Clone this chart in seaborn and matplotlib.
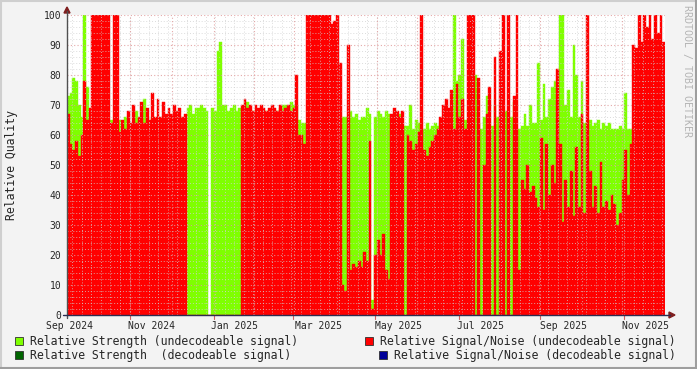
import numpy as np
import pandas as pd
import matplotlib
matplotlib.use("Agg")
import matplotlib.pyplot as plt
import seaborn as sns
from matplotlib.lines import Line2D
from matplotlib.patches import Rectangle, Polygon

# ---------------- data (2-day steps, 0..440 days) ----------------
step_days = 2
snr_undecodeable = [
    67, 57, 55, 58, 53, 60, 78, 65, 69, 100,
    100, 100, 100, 100, 100, 100, 64, 100, 100, 61,
    65, 62, 68, 64, 70, 64, 66, 71, 64, 69,
    65, 74, 66, 72, 66, 71, 67, 69, 67, 70,
    68, 69, 66, 67, 0, 0, 0, 0, 0, 0,
    0, 0, 0, 0, 0, 0, 0, 0, 0, 0,
    0, 0, 0, 0, 70, 72, 69, 70, 68, 70,
    69, 70, 69, 68, 69, 70, 69, 68, 70, 68,
    69, 70, 68, 69, 80, 60, 60, 57, 100, 100,
    100, 100, 100, 100, 100, 100, 100, 97, 98, 100,
    84, 10, 8, 90, 15, 17, 16, 18, 16, 21,
    18, 58, 2, 20, 25, 20, 27, 15, 12, 67,
    69, 68, 66, 68, 0, 60, 58, 55, 57, 61,
    100, 55, 53, 56, 58, 60, 62, 66, 70, 72,
    69, 75, 62, 77, 66, 72, 62, 100, 100, 100,
    0, 79, 0, 50, 67, 76, 0, 86, 0, 88,
    100, 0, 100, 0, 73, 100, 15, 45, 42, 50,
    41, 43, 39, 36, 59, 35, 57, 40, 50, 44,
    82, 57, 31, 45, 36, 48, 33, 56, 36, 67,
    34, 100, 48, 36, 43, 34, 51, 36, 38, 35,
    40, 37, 30, 34, 45, 55, 40, 57, 90, 89,
    100, 91, 100, 96, 100, 92, 100, 94, 100, 91,
]
strength_undecodeable = [
    73, 74, 79, 78, 70, 66, 100, 76, 65, 60,
    60, 60, 60, 60, 60, 60, 65, 60, 60, 65,
    60, 66, 64, 58, 64, 68, 62, 65, 72, 66,
    60, 66, 60, 66, 64, 66, 63, 66, 63, 66,
    66, 64, 60, 65, 69, 70, 67, 69, 69, 70,
    69, 68, 0, 69, 68, 88, 91, 70, 70, 68,
    69, 70, 68, 69, 68, 68, 71, 66, 68, 66,
    68, 67, 68, 68, 67, 68, 66, 68, 69, 70,
    70, 68, 71, 70, 70, 65, 64, 64, 60, 60,
    60, 60, 60, 60, 60, 60, 60, 60, 60, 60,
    66, 66, 66, 66, 68, 66, 67, 65, 66, 66,
    69, 67, 5, 66, 68, 67, 66, 68, 67, 66,
    64, 65, 67, 62, 63, 63, 70, 62, 65, 64,
    62, 62, 64, 62, 63, 64, 63, 64, 66, 66,
    66, 64, 100, 78, 80, 92, 65, 60, 60, 60,
    80, 64, 62, 66, 73, 63, 63, 70, 66, 65,
    60, 68, 60, 66, 71, 60, 62, 63, 67, 63,
    70, 64, 64, 84, 65, 77, 66, 72, 76, 78,
    72, 100, 100, 70, 75, 66, 90, 80, 66, 78,
    64, 64, 65, 63, 64, 65, 62, 64, 63, 64,
    62, 62, 62, 63, 62, 74, 62, 62, 62, 60,
    60, 60, 60, 60, 60, 60, 60, 60, 60, 60,
]
month_labels = ["Sep 2024", "Nov 2024", "Jan 2025", "Mar 2025",
                "May 2025", "Jul 2025", "Sep 2025", "Nov 2025"]
month_label_days = [2.2, 62.5, 122.9, 184.7, 243.6, 303.9, 365.0, 425.3]
month_grid_days = [46.4, 77.3, 108.2, 137.6, 167.0, 198.7, 228.1, 257.5,
                   288.4, 317.9, 348.0, 378.9, 408.4]
tick2m_days = [46.4, 108.2, 166.3, 226.6, 288.4, 348.0, 409.8]
legend_labels = ["Relative Strength (undecodeable signal)",
                 "Relative Signal/Noise (undecodeable signal)",
                 "Relative Strength  (decodeable signal)",
                 "Relative Signal/Noise (decodeable signal)"]

C_GREEN = "#7fff00"
C_RED = "#ff0000"
C_DKGREEN = "#006400"
C_NAVY = "#000099"

W, H = 697, 369
sns.set_style("white")
plt.rcParams["font.family"] = ["DejaVu Sans Mono", "DejaVu Sans"]

fig = plt.figure(figsize=(W / 100, H / 100), dpi=100, facecolor="#f3f3f3")
ax = fig.add_axes([67 / W, (H - 315) / H, (665 - 67) / W, 300 / H])
ax.set_facecolor("white")

n = len(snr_undecodeable)
df = pd.DataFrame({
    "day": np.arange(n) * step_days + step_days / 2,
    "strength": strength_undecodeable,
    "snr": snr_undecodeable,
})
span = (0, n * step_days)

sns.histplot(data=df, x="day", weights="strength", binwidth=step_days,
             binrange=span, color=C_GREEN, alpha=1, element="bars",
             fill=True, linewidth=0.3, edgecolor=C_GREEN, ax=ax, zorder=1)
sns.histplot(data=df, x="day", weights="snr", binwidth=step_days,
             binrange=span, color=C_RED, alpha=1, element="bars",
             fill=True, linewidth=0.3, edgecolor=C_RED, ax=ax, zorder=1.1)

ax.set_xlim(0, n * step_days)
ax.set_ylim(0, 100)
ax.set_xlabel("")
ax.set_ylabel("")

# grid
ax.set_yticks(range(0, 101, 10))
ax.set_yticks(range(0, 101, 2), minor=True)
ax.set_xticks(month_label_days)
ax.set_xticklabels(month_labels)
ax.set_xticks(np.arange(4, n * step_days, 7), minor=True)
ax.set_axisbelow(False)
ax.grid(which="minor", axis="both", color="#d0d0d0", alpha=0.75,
        linestyle=(0, (1, 2)), linewidth=0.7)
ax.grid(which="major", axis="y", color="#e09a9a", alpha=0.85,
        linestyle=(0, (1, 2)), linewidth=0.8)
ax.grid(which="major", axis="x", visible=False)
for d in month_grid_days:
    ax.axvline(d, color="#e09a9a", alpha=0.85, linestyle=(0, (1, 2)),
               linewidth=0.8, zorder=3)

ax.tick_params(axis="both", which="both", length=0)
ax.tick_params(axis="y", labelsize=7, pad=4)
ax.tick_params(axis="x", labelsize=7, pad=4.2)
for s in ax.spines.values():
    s.set_visible(False)


def P(x, y):
    return (x / W, 1 - y / H)


tf = fig.transFigure
# 2-month tick marks under axis
for d in tick2m_days:
    xp = 67 + d * (598 / 440)
    fig.add_artist(Line2D([P(xp, 315)[0]] * 2, [P(0, 315)[1], P(0, 319)[1]],
                          transform=tf, color="#d06060", linewidth=0.8))
# axes lines
fig.add_artist(Line2D([P(67, 0)[0]] * 2, [P(0, 318)[1], P(0, 11)[1]],
                      transform=tf, color="#505050", linewidth=1))
fig.add_artist(Line2D([P(63, 0)[0], P(670, 0)[0]], [P(0, 315)[1]] * 2,
                      transform=tf, color="#2c2c50", linewidth=1))
fig.add_artist(Polygon([P(64, 13), P(70, 13), P(67, 7)], closed=True,
                       transform=tf, color="#7f1f1f"))
fig.add_artist(Polygon([P(669, 312), P(669, 318), P(675, 315)], closed=True,
                       transform=tf, color="#7f1f1f"))

# labels
fig.text(12 / W, 1 - 165 / H, "Relative Quality", rotation=90,
         ha="center", va="center", fontsize=8.3)
fig.text(687 / W, 1 - 5 / H, "RRDTOOL / TOBI OETIKER", rotation=270,
         ha="center", va="top", fontsize=7.2, color="#b4b4b4")

# legend
legend_items = [(15, 341, C_GREEN, 30, legend_labels[0]),
                (365, 341, C_RED, 380, legend_labels[1]),
                (15, 355, C_DKGREEN, 30, legend_labels[2]),
                (379, 355, C_NAVY, 394, legend_labels[3])]
for sx, cy, col, tx, lab in legend_items:
    x0, y0 = P(sx, cy + 4)
    fig.add_artist(Rectangle((x0, y0), 8 / W, 8 / H, transform=tf,
                             facecolor=col, edgecolor="#303030", linewidth=0.6))
    fig.text(tx / W, 1 - cy / H, lab, ha="left", va="center", fontsize=8.3)

# frame
fig.add_artist(Line2D([0, 1], [1 - 0.8 / H] * 2, transform=tf, color="#cfcfcf", linewidth=1.5))
fig.add_artist(Line2D([0.8 / W] * 2, [0, 1], transform=tf, color="#cfcfcf", linewidth=1.5))
fig.add_artist(Line2D([0, 1], [0.8 / H] * 2, transform=tf, color="#9e9e9e", linewidth=1.5))
fig.add_artist(Line2D([1 - 0.8 / W] * 2, [0, 1], transform=tf, color="#9e9e9e", linewidth=1.5))

fig.savefig("out.png", dpi=100, facecolor=fig.get_facecolor())
